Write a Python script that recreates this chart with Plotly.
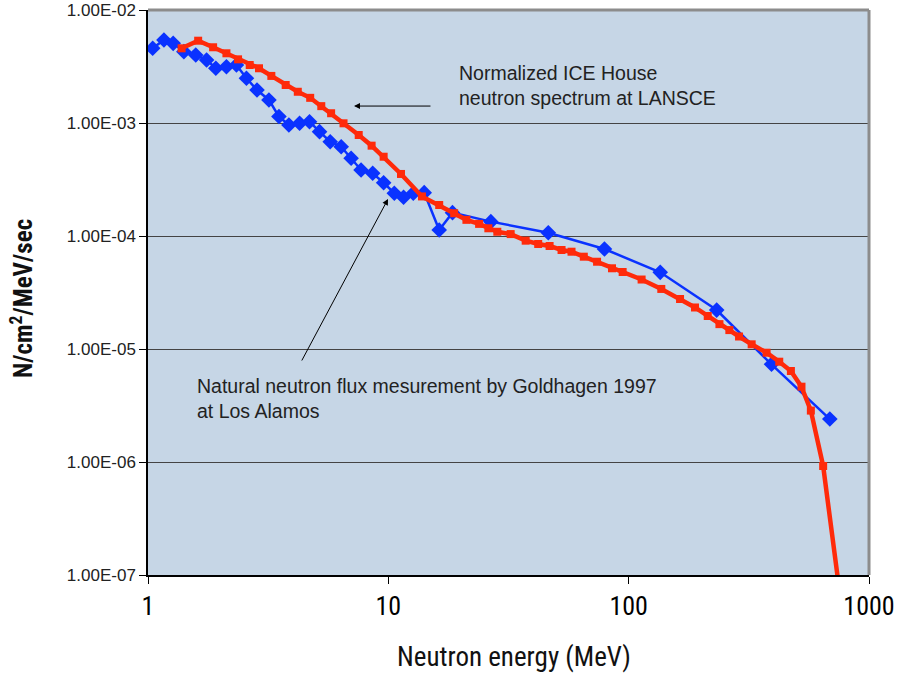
import plotly.graph_objects as go

# Goldhagen 1997 natural neutron flux (blue)
blue_energy = [1.046, 1.165, 1.273, 1.41, 1.58, 1.753, 1.915, 2.12, 2.334, 2.568,
               2.842, 3.186, 3.506, 3.857, 4.273, 4.70, 5.173, 5.73, 6.365, 7.0,
               7.70, 8.61, 9.56, 10.59, 11.57, 12.70, 14.1, 16.28, 18.49, 26.7,
               46.3, 79.3, 135.3, 232.4, 393, 687]
blue_flux = [4.58e-3, 5.43e-3, 5.07e-3, 4.28e-3, 4.0e-3, 3.61e-3, 3.05e-3, 3.15e-3, 3.26e-3, 2.49e-3,
             1.96e-3, 1.60e-3, 1.14e-3, 9.6e-4, 9.94e-4, 1.027e-3, 8.38e-4, 6.83e-4, 6.17e-4, 4.87e-4,
             3.84e-4, 3.59e-4, 2.96e-4, 2.39e-4, 2.2e-4, 2.39e-4, 2.42e-4, 1.13e-4, 1.61e-4, 1.34e-4,
             1.07e-4, 7.67e-5, 4.77e-5, 2.21e-5, 7.32e-6, 2.40e-6]

# ICE House LANSCE spectrum (red)
red_energy = [1.380, 1.617, 1.866, 2.12, 2.37, 2.65, 2.897, 3.26, 3.74, 4.20,
              4.73, 5.26, 5.78, 6.51, 7.53, 8.52, 9.56, 11.29, 13.80, 16.28,
              18.79, 21.13, 23.86, 26.07, 28.41, 32.29, 37.28, 42.03, 46.88, 52.57,
              57.84, 65.06, 73.87, 85.23, 94.4, 113.2, 136.7, 163.6, 188.8, 213.3,
              238.6, 262.4, 287.9, 324.9, 374.9, 423.2, 473.2, 523.7, 572.9, 644.5, 818]
red_flux = [4.58e-3, 5.35e-3, 4.68e-3, 4.14e-3, 3.66e-3, 3.26e-3, 3.05e-3, 2.61e-3, 2.17e-3, 1.89e-3,
            1.67e-3, 1.41e-3, 1.22e-3, 9.94e-4, 7.83e-4, 6.30e-4, 5.03e-4, 3.54e-4, 2.24e-4, 1.88e-4,
            1.59e-4, 1.39e-4, 1.28e-4, 1.17e-4, 1.09e-4, 1.04e-4, 9.09e-5, 8.50e-5, 8.16e-5, 7.52e-5,
            7.26e-5, 6.56e-5, 5.92e-5, 5.18e-5, 4.80e-5, 4.12e-5, 3.40e-5, 2.77e-5, 2.33e-5, 1.96e-5,
            1.66e-5, 1.47e-5, 1.29e-5, 1.10e-5, 9.27e-6, 7.72e-6, 6.39e-6, 4.64e-6, 2.85e-6, 9.22e-7, 1.9e-8]

y_tickvals = [1e-7, 1e-6, 1e-5, 1e-4, 1e-3, 1e-2]
y_ticktext = ["1.00E-07", "1.00E-06", "1.00E-05", "1.00E-04", "1.00E-03", "1.00E-02"]
x_tickvals = [1, 10, 100, 1000]
x_ticktext = ["1", "10", "100", "1000"]

cond_font = "Roboto Condensed, Liberation Sans Narrow, Roboto, sans-serif"
text_font = "Liberation Sans, Arial, sans-serif"

fig = go.Figure()
fig.add_trace(go.Scatter(
    x=blue_energy, y=blue_flux, mode="lines+markers",
    line=dict(color="#0A32FF", width=2.5),
    marker=dict(symbol="diamond", size=12, color="#0A32FF"),
    showlegend=False,
))
fig.add_trace(go.Scatter(
    x=red_energy, y=red_flux, mode="lines+markers",
    line=dict(color="#FF2A0A", width=4.5),
    marker=dict(symbol="square", size=8, color="#FF2A0A"),
    showlegend=False,
))

fig.update_layout(
    width=905, height=679,
    margin=dict(l=148, r=36, t=10, b=104, autoexpand=False),
    paper_bgcolor="white",
    plot_bgcolor="#C6D6E6",
    xaxis=dict(
        type="log", range=[0, 3], automargin=False,
        tickvals=x_tickvals, ticktext=x_ticktext,
        ticks="outside", ticklen=7, tickcolor="black",
        showline=True, linecolor="black", linewidth=1.5,
        showgrid=False, zeroline=False, mirror=False,
        tickfont=dict(family=cond_font, size=26, color="black"),
    ),
    yaxis=dict(
        type="log", range=[-7, -2], automargin=False,
        tickvals=y_tickvals, ticktext=y_ticktext,
        ticks="outside", ticklen=7, tickcolor="black",
        showline=True, linecolor="black", linewidth=1.5,
        showgrid=True, gridcolor="#444444", gridwidth=1,
        zeroline=False,
        tickfont=dict(family=text_font, size=17, color="#222"),
    ),
    shapes=[
        dict(type="line", xref="paper", yref="paper", x0=0, x1=1, y0=1, y1=1,
             line=dict(color="#8C8C8C", width=3)),
        dict(type="line", xref="paper", yref="paper", x0=1, x1=1, y0=0, y1=1,
             line=dict(color="#8C8C8C", width=3)),
    ],
    annotations=[
        dict(xref="paper", yref="paper", x=0.5076, y=-0.145, xanchor="center", yanchor="middle",
             text="Neutron energy (MeV)", showarrow=False,
             font=dict(family=cond_font, size=27, color="#111")),
        dict(xref="paper", yref="paper", x=-0.1748, y=0.49, xanchor="center", yanchor="middle",
             text="<b>N/cm<sup>2</sup>/MeV/sec</b>", showarrow=False, textangle=-90,
             font=dict(family=cond_font, size=25, color="#111")),
        dict(xref="paper", yref="paper", x=0.4286, y=0.8655, xanchor="left", yanchor="middle",
             text="Normalized ICE House<br>neutron spectrum at LANSCE", showarrow=False, align="left",
             font=dict(family=text_font, size=19.5, color="#222")),
        dict(xref="paper", yref="paper", x=0.2857, y=0.830, ax=78, ay=0, axref="pixel", ayref="pixel",
             text="", showarrow=True, arrowhead=2, arrowsize=1.2, arrowwidth=1, arrowcolor="black"),
        dict(xref="paper", yref="paper", x=0.0652, y=0.313, xanchor="left", yanchor="middle",
             text="Natural neutron flux mesurement by Goldhagen 1997<br>at Los Alamos", showarrow=False, align="left",
             font=dict(family=text_font, size=19.5, color="#222")),
        dict(xref="paper", yref="paper", x=0.3329, y=0.6655, ax=-87, ay=163, axref="pixel", ayref="pixel",
             text="", showarrow=True, arrowhead=2, arrowsize=1.2, arrowwidth=1, arrowcolor="black"),
    ],
)

fig.write_html("out.html")
